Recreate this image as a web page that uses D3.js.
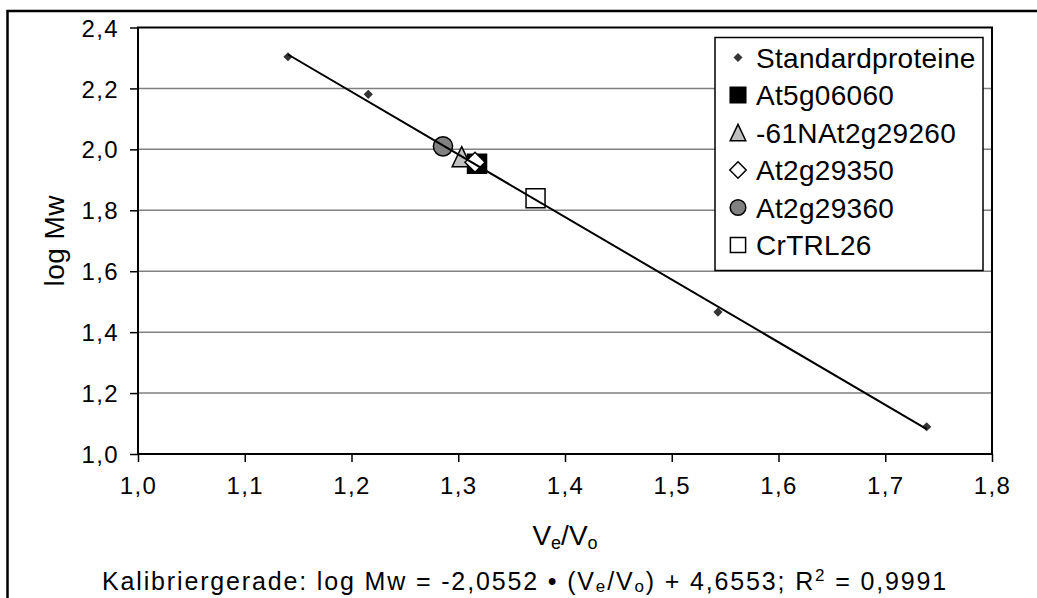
<!DOCTYPE html>
<html>
<head>
<meta charset="utf-8">
<script src="https://cdn.jsdelivr.net/npm/d3@7"></script>
<style>
  html, body { margin: 0; padding: 0; background: #fff; }
  svg { display: block; font-family: "Liberation Sans", Arial, sans-serif; }
</style>
</head>
<body>
<svg id="chart" width="1037" height="598"></svg>
<script>
// Calibration standards (Ve/Vo vs log Mw)
const standardVeVo = [1.1405, 1.2157, 1.5433, 1.7388];
const standardLogMw = [2.304, 2.1807, 1.466, 1.0895];

// Analysed proteins
const proteinNames = ["At5g06060", "-61NAt2g29260", "At2g29350", "At2g29360", "CrTRL26"];
const proteinVeVo = [1.3176, 1.3032, 1.3157, 1.2857, 1.3724];
const proteinLogMw = [1.9525, 1.976, 1.9575, 2.010, 1.8396];

// Regression line: log Mw = slope * (Ve/Vo) + intercept
const slope = -2.0552;
const intercept = 4.6553;
const rSquared = "0,9991";

const xTicks = [1.0, 1.1, 1.2, 1.3, 1.4, 1.5, 1.6, 1.7, 1.8];
const yTicks = [1.0, 1.2, 1.4, 1.6, 1.8, 2.0, 2.2, 2.4];

const svg = d3.select("#chart");
const fmt = v => d3.format(".1f")(v).replace(".", ",");
const fmt4 = v => v.toFixed(4).replace(".", ",");

const plot = { left: 138, right: 992, top: 27.5, bottom: 454 };
const x = d3.scaleLinear().domain([1.0, 1.8]).range([plot.left, plot.right]);
const y = d3.scaleLinear().domain([1.0, 2.4]).range([plot.bottom, plot.top]);

// Marker shapes sized by half-width (the "size" passed to d3.symbol)
const diamond = { draw(c, r) { c.moveTo(0, -r); c.lineTo(r, 0); c.lineTo(0, r); c.lineTo(-r, 0); c.closePath(); } };
const square = { draw(c, r) { c.rect(-r, -r, 2 * r, 2 * r); } };
const circle = { draw(c, r) { c.moveTo(r, 0); c.arc(0, 0, r, 0, 2 * Math.PI); } };
const triangle = { draw(c, r) { c.moveTo(0, -r * 1.05); c.lineTo(r, r * 1.05); c.lineTo(-r, r * 1.05); c.closePath(); } };

const markers = {
  "Standardproteine": { type: diamond, fill: "#333", stroke: "#333", sw: 0.5, plot: 4.6, legend: 4.2 },
  "At5g06060": { type: square, fill: "#000", stroke: "#000", sw: 1.5, plot: 9.5, legend: 7.8 },
  "-61NAt2g29260": { type: triangle, fill: "#c0c0c0", stroke: "#000", sw: 1.5, plot: 9.5, legend: 7.8 },
  "At2g29350": { type: diamond, fill: "#fff", stroke: "#000", sw: 1.5, plot: 10, legend: 8.2 },
  "At2g29360": { type: circle, fill: "#808080", stroke: "#000", sw: 1.5, plot: 9.6, legend: 7.8 },
  "CrTRL26": { type: square, fill: "#fff", stroke: "#000", sw: 1.5, plot: 9.5, legend: 7.6 }
};

// outer chart frame
svg.append("rect")
  .attr("x", 7.5).attr("y", 11).attr("width", 1060).attr("height", 620)
  .attr("fill", "none").attr("stroke", "#000").attr("stroke-width", 2.5);

// horizontal gridlines
svg.append("g").selectAll("line")
  .data(yTicks.slice(1, -1)).join("line")
  .attr("x1", plot.left).attr("x2", plot.right)
  .attr("y1", d => y(d)).attr("y2", d => y(d))
  .attr("stroke", "#808080").attr("stroke-width", 1.5);

// axes
const yAxis = d3.axisLeft(y).tickValues(yTicks).tickFormat(fmt).tickSize(8).tickPadding(11);
const xAxis = d3.axisBottom(x).tickValues(xTicks).tickFormat(fmt).tickSize(8).tickPadding(14);

const gy = svg.append("g").attr("transform", `translate(${plot.left},0)`).call(yAxis);
const gx = svg.append("g").attr("transform", `translate(0,${plot.bottom})`).call(xAxis);
[gx, gy].forEach(g => {
  g.select(".domain").remove();
  g.selectAll(".tick line").attr("stroke", "#000").attr("stroke-width", 1.5);
  g.selectAll(".tick text").attr("fill", "#000")
    .style("font-size", "24px").style("letter-spacing", "1.4px")
    .style("font-family", "'Liberation Sans', Arial, sans-serif");
});
gy.selectAll(".tick text").attr("dy", "0.36em");
gx.selectAll(".tick text").attr("dy", "0.74em");

// plot area border
svg.append("rect")
  .attr("x", plot.left).attr("y", plot.top)
  .attr("width", plot.right - plot.left).attr("height", plot.bottom - plot.top)
  .attr("fill", "none").attr("stroke", "#000").attr("stroke-width", 2);

// standards
svg.append("g").selectAll("path")
  .data(standardVeVo.map((v, i) => ({ vx: v, vy: standardLogMw[i] })))
  .join("path")
  .attr("transform", d => `translate(${x(d.vx)},${y(d.vy)})`)
  .attr("d", d3.symbol().type(diamond).size(markers["Standardproteine"].plot))
  .attr("fill", "#333");

// proteins, drawn in stacking order
const proteins = proteinNames.map((n, i) => ({ name: n, vx: proteinVeVo[i], vy: proteinLogMw[i] }));
const drawOrder = ["At2g29360", "-61NAt2g29260", "At5g06060", "At2g29350", "CrTRL26"];
svg.append("g").selectAll("path")
  .data(drawOrder.map(n => proteins.find(p => p.name === n)))
  .join("path")
  .attr("transform", d => `translate(${x(d.vx)},${y(d.vy)})`)
  .attr("d", d => d3.symbol().type(markers[d.name].type).size(markers[d.name].plot)())
  .attr("fill", d => markers[d.name].fill)
  .attr("stroke", d => markers[d.name].stroke)
  .attr("stroke-width", d => markers[d.name].sw);

// regression line over the range of the standards
const xr = d3.extent(standardVeVo);
svg.append("line")
  .attr("x1", x(xr[0])).attr("y1", y(slope * xr[0] + intercept))
  .attr("x2", x(xr[1])).attr("y2", y(slope * xr[1] + intercept))
  .attr("stroke", "#000").attr("stroke-width", 2);

// legend
const legendNames = ["Standardproteine"].concat(proteinNames);
const lg = svg.append("g");
lg.append("rect").attr("x", 715).attr("y", 37.5).attr("width", 268).attr("height", 233)
  .attr("fill", "#fff").attr("stroke", "#000").attr("stroke-width", 1.5);
const rows = lg.selectAll("g.row").data(legendNames).join("g")
  .attr("transform", (d, i) => `translate(0,${57.5 + i * 37.5})`);
rows.append("path")
  .attr("transform", "translate(738,0)")
  .attr("d", d => d3.symbol().type(markers[d].type).size(markers[d].legend)())
  .attr("fill", d => markers[d].fill)
  .attr("stroke", d => markers[d].stroke)
  .attr("stroke-width", d => markers[d].sw);
rows.append("text")
  .attr("x", 756).attr("dy", "0.36em")
  .style("font-size", "28px").style("letter-spacing", "0.3px")
  .text(d => d);

// axis titles
const xt = svg.append("text").attr("x", (plot.left + plot.right) / 2).attr("y", 545)
  .attr("text-anchor", "middle").style("font-size", "28px");
xt.append("tspan").text("V");
xt.append("tspan").attr("baseline-shift", "-22%").style("font-size", "18px").text("e");
xt.append("tspan").text("/V");
xt.append("tspan").attr("baseline-shift", "-22%").style("font-size", "18px").text("o");

svg.append("text")
  .attr("transform", `translate(64,${(plot.top + plot.bottom) / 2}) rotate(-90)`)
  .attr("text-anchor", "middle").style("font-size", "28px").style("letter-spacing", "0.5px")
  .text("log Mw");

// calibration equation
const eq = svg.append("text").attr("x", 525).attr("y", 590)
  .attr("text-anchor", "middle").style("font-size", "25px").style("letter-spacing", "1.85px");
eq.append("tspan").text(`Kalibriergerade: log Mw = ${fmt4(slope)} \u2022 (V`);
eq.append("tspan").attr("baseline-shift", "-12%").style("font-size", "17px").text("e");
eq.append("tspan").text("/V");
eq.append("tspan").attr("baseline-shift", "-12%").style("font-size", "17px").text("o");
eq.append("tspan").text(`) + ${fmt4(intercept)}; R`);
eq.append("tspan").attr("baseline-shift", "super").style("font-size", "17px").text("2");
eq.append("tspan").text(` = ${rSquared}`);
</script>
</body>
</html>
